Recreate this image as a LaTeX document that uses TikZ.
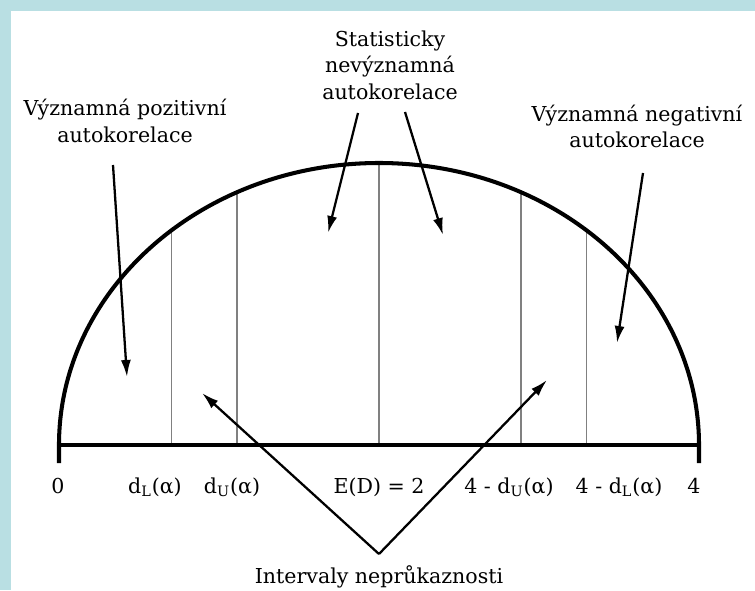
\documentclass[tikz,border=0pt]{standalone}
\usepackage{fontspec}
\setmainfont{DejaVu Serif}
\usepackage{tikz}
\usetikzlibrary{arrows.meta}

\definecolor{modra}{RGB}{185,223,227}

\begin{document}
\begin{tikzpicture}[
		popis/.style={font=\fontsize{11.7pt}{15.1pt}\selectfont, align=center, inner sep=0pt},
		tlusta/.style={line width=2.3pt, line join=round},
		tenka/.style={line width=0.6pt, black!50},
		sipka/.style={line width=1.3pt, -{Latex[length=0.34cm,width=0.2cm]}}
	]
	% Sfondo e cornice
	\fill[modra] (-7.58,-2.9) rectangle (7.52,8.9);
	\fill[white] (-7.36,-2.9) rectangle (7.52,8.68);
	\useasboundingbox (-7.58,-2.9) rectangle (7.52,8.9);
	
	% Linee verticali sottili
	\foreach \x in {-4.15,-2.84,0,2.84,4.15}
		\draw[tenka] (\x,0) -- (\x,{5.64*sqrt(1-(\x/6.4)^2)});
	
	% Semiellisse e asse
	\draw[tlusta] (-6.4,-0.36) -- (-6.4,0) arc[start angle=180, end angle=0, x radius=6.4, y radius=5.64] -- (6.4,-0.36);
	\draw[tlusta] (-6.4,0) -- (6.4,0);
	
	% Testi delle zone
	\node[popis] (pozitivni) at (-5.08, 6.48) {Významná pozitivní\\autokorelace};
	\node[popis] (nevyznamna) at (0.22, 7.6) {Statisticky\\nevýznamná\\autokorelace};
	\node[popis] (negativni) at (5.16, 6.37) {Významná negativní\\autokorelace};
	\node[popis, anchor=base] (intervaly) at (0, -2.76) {Intervaly neprůkaznosti};
	
	% Valori sull'asse
	\node[popis, anchor=base] (nula) at (-6.42, -0.96) {0};
	\node[popis, anchor=base] (dL) at (-4.48, -0.96) {d\textsubscript{L}(α)};
	\node[popis, anchor=base] (dU) at (-2.94, -0.96) {d\textsubscript{U}(α)};
	\node[popis, anchor=base] (ED) at (0, -0.96) {E(D) = 2};
	\node[popis, anchor=base] (ctyrdU) at (2.6, -0.96) {4 - d\textsubscript{U}(α)};
	\node[popis, anchor=base] (ctyrdL) at (4.8, -0.96) {4 - d\textsubscript{L}(α)};
	\node[popis, anchor=base] (ctyri) at (6.3, -0.96) {4};
	
	% Estremi delle frecce
	\coordinate (s1) at (-5.32, 5.6);
	\coordinate (t1) at (-5.04, 1.36);
	\coordinate (s2) at (-0.42, 6.64);
	\coordinate (t2) at (-1.02, 4.24);
	\coordinate (s3) at (0.52, 6.66);
	\coordinate (t3) at (1.28, 4.2);
	\coordinate (s4) at (5.28, 5.44);
	\coordinate (t4) at (4.76, 2.04);
	\coordinate (vrchol) at (0, -2.18);
	\coordinate (tL) at (-3.54, 1.04);
	\coordinate (tR) at (3.36, 1.3);
	
	% Frecce
	\draw[sipka] (s1) -- (t1);
	\draw[sipka] (s2) -- (t2);
	\draw[sipka] (s3) -- (t3);
	\draw[sipka] (s4) -- (t4);
	\draw[sipka] (vrchol) -- (tL);
	\draw[sipka] (vrchol) -- (tR);
\end{tikzpicture}
\end{document}
